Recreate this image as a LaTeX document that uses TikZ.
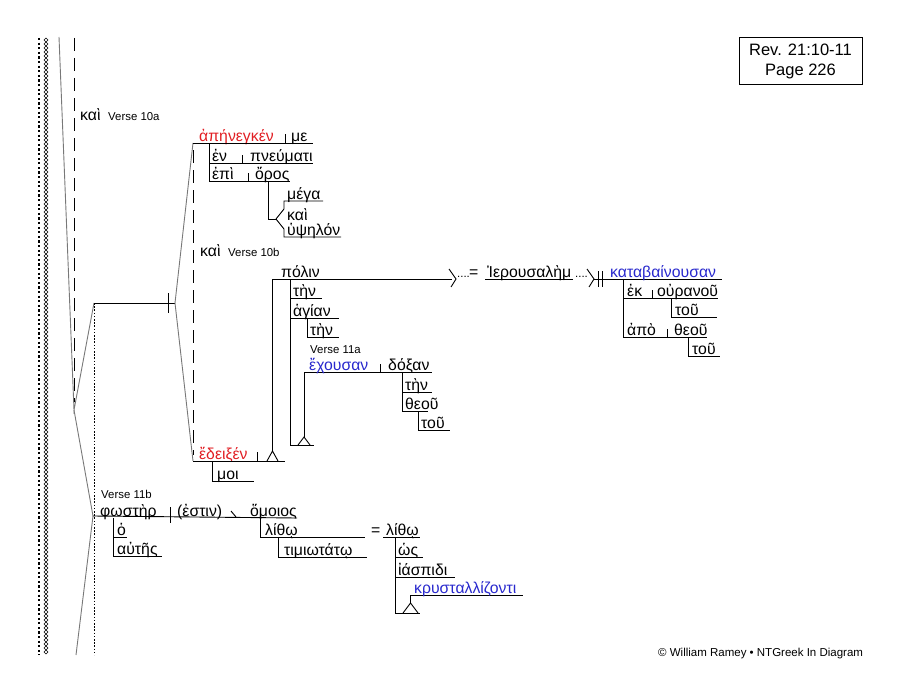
\documentclass[tikz,border=0pt]{standalone}
\usepackage{fontspec}
\setmainfont{Liberation Sans}
\definecolor{gkred}{RGB}{225,30,35}
\definecolor{gkblue}{RGB}{40,40,205}
\definecolor{lgray}{RGB}{120,120,120}
\begin{document}
\begin{tikzpicture}[x=1pt,y=-1pt,
  ln/.style={line width=0.9pt},
  gl/.style={line width=0.9pt, draw=lgray},
  gk/.style={font=\fontsize{15.8}{18}\selectfont, inner sep=0pt, anchor=base west},
  lab/.style={font=\fontsize{11.4}{13}\selectfont, inner sep=0pt, anchor=base west},
  tri/.style={line width=0.9pt}]
\useasboundingbox (0,0) rectangle (900,693);
% left border
\draw[line width=2.2pt, dash pattern=on 2.2pt off 2.4pt] (39,38)--(39,655);
\foreach \y in {38,42,...,650} {\draw[line width=0.5pt] (46,\y)--(48,\y+2)--(46,\y+4)--(44,\y+2)--cycle;}
% main gray connectors and dashed lines
\coordinate (top) at (59,37);
\coordinate (v1) at (74,410);
\coordinate (u1) at (94,303);
\coordinate (d1) at (93,516);
\coordinate (bot) at (76,655);
\draw[gl] (top)--(v1)--(u1);
\draw[gl] (v1)--(d1)--(bot);
\draw[ln, dash pattern=on 13pt off 7pt] (74,38)--(74,402);
\draw[line width=0.8pt, dash pattern=on 1.6pt off 1.6pt] (94,303)--(94,655);
\draw[ln] (u1)--(175,303);
\draw[ln] (168,293)--(168,313);
\coordinate (j2) at (175,303);
\draw[gl] (193,143)--(j2)--(193,461);
\draw[ln, dash pattern=on 13pt off 7pt] (193,150)--(193,455);
% kai verse 10a
\node[gk] (kai1) at (80,121) {καὶ};
\node[lab] (v10a) at (108,121) {Verse 10a};
% clause 1
\node[gk, text=gkred] (apen) at (199,141) {ἀπήνεγκέν};
\node[gk] (me) at (291,141) {με};
\draw[ln] (193,143)--(313,143);
\draw[ln] (285,134)--(285,143);
\draw[ln] (209,143)--(209,181);
\node[gk] (en) at (212,161) {ἐν};
\node[gk] (pneumati) at (250,161) {πνεύματι};
\draw[ln] (209,163)--(313,163);
\draw[ln] (242,155)--(242,163);
\node[gk] (epi) at (212,179) {ἐπὶ};
\node[gk] (oros) at (255,179) {ὄρος};
\draw[ln] (209,181)--(290,181);
\draw[ln] (248,173)--(248,181);
\draw[ln] (268,181)--(268,219)--(276,219);
\draw[ln] (276,219)--(284,209)--(284,201)--(323,201);
\draw[ln] (276,219)--(284,229)--(284,237)--(341,237);
\node[gk] (mega) at (287,199) {μέγα};
\node[gk] (kai2) at (287,220) {καὶ};
\node[gk] (hypselon) at (287,235) {ὑψηλόν};
% kai verse 10b
\node[gk] (kai3) at (200,256) {καὶ};
\node[lab] (v10b) at (228,256) {Verse 10b};
% clause 2
\node[gk, text=gkred] (edeixen) at (199,459) {ἔδειξέν};
\draw[ln] (193,461)--(285,461);
\draw[ln] (257,452)--(257,461);
\draw[tri] (267,461)--(272.5,451)--(278,461);
\draw[ln] (272.5,451)--(272.5,279);
\draw[ln] (212,461)--(212,481)--(254,481);
\node[gk] (moi) at (217,479) {μοι};
% polin
\node[gk] (polin) at (281,277) {πόλιν};
\draw[ln] (272.5,279)--(452,279);
\draw[ln] (449,269)--(456,279)--(451,287);
\node[lab] (dots1) at (457,277) {....};
\node[gk] (eq1) at (469,277) {=};
\node[gk] (ierous) at (487,277) {Ἰερουσαλὴμ};
\draw[ln] (485,279)--(573,279);
\node[lab] (dots2) at (575,277) {....};
\draw[ln] (587,269)--(594,279)--(589,287);
\draw[ln] (594,279)--(722,279);
\draw[ln] (598,271)--(598,287);
\draw[ln] (602,271)--(602,287);
\node[gk, text=gkblue] (katab) at (610,277) {καταβαίνουσαν};
\draw[ln] (623,279)--(623,337);
\node[gk] (ek) at (627,296) {ἐκ};
\node[gk] (ouranou) at (657,296) {οὐρανοῦ};
\draw[ln] (623,298)--(718,298);
\draw[ln] (652,290)--(652,298);
\draw[ln] (671,298)--(671,317)--(717,317);
\node[gk] (tou2) at (675,315) {τοῦ};
\node[gk] (apo) at (627,335) {ἀπὸ};
\node[gk] (theou2) at (674,335) {θεοῦ};
\draw[ln] (623,337)--(707,337);
\draw[ln] (667,329)--(667,337);
\draw[ln] (688,337)--(688,356)--(720,356);
\node[gk] (tou3) at (692,354) {τοῦ};
% modifiers of polin
\draw[ln] (290,279)--(290,445)--(314,445);
\draw[tri] (298,445)--(304,437)--(310,445);
\draw[ln] (304,437)--(304,372)--(432,372);
\draw[ln] (290,298)--(322,298);
\node[gk] (ten1) at (293,296) {τὴν};
\draw[ln] (290,318)--(339,318);
\node[gk] (hagian) at (293,316) {ἁγίαν};
\draw[ln] (307,318)--(307,337)--(339,337);
\node[gk] (ten2) at (310,335) {τὴν};
\node[lab] (v11a) at (310,353) {Verse 11a};
\node[gk, text=gkblue] (echousan) at (309,370) {ἔχουσαν};
\draw[ln] (380,364)--(380,372);
\node[gk] (doxan) at (388,370) {δόξαν};
\draw[ln] (402,372)--(402,411);
\draw[ln] (402,392)--(432,392);
\node[gk] (ten3) at (405,390) {τὴν};
\draw[ln] (402,411)--(428,411);
\node[gk] (theou1) at (405,409) {θεοῦ};
\draw[ln] (418,411)--(418,430)--(450,430);
\node[gk] (tou1) at (421,428) {τοῦ};
% clause 3
\node[lab] (v11b) at (101,498) {Verse 11b};
\draw[ln] (d1)--(297,518);
\node[gk] (phoster) at (100,516) {φωστὴρ};
\draw[ln] (170,507)--(170,523);
\node[gk] (estin) at (177,516) {(ἐστιν)};
\draw[ln] (231,511)--(236,517);
\node[gk] (homoios) at (250,516) {ὅμοιος};
\draw[ln] (113,518)--(113,556)--(162,556);
\draw[ln] (113,537)--(127,537);
\node[gk] (ho) at (117,535) {ὁ};
\node[gk] (autes) at (117,554) {αὐτῆς};
\draw[ln] (260,518)--(260,537)--(365,537);
\node[gk] (lithoi1) at (265,535) {λίθῳ};
\draw[ln] (278,537)--(278,557)--(367,557);
\node[gk] (timiotato) at (284,555) {τιμιωτάτῳ};
\node[gk] (eq2) at (371,535) {=};
\draw[ln] (383,537)--(420,537);
\node[gk] (lithoi2) at (386,535) {λίθῳ};
\draw[ln] (395,537)--(395,613)--(420,613);
\draw[ln] (395,557)--(423,557);
\node[gk] (hos) at (398,555) {ὡς};
\draw[ln] (395,577)--(455,577);
\node[gk] (iaspidi) at (398,575) {ἰάσπιδι};
\draw[tri] (403,613)--(410.5,603)--(418,613);
\draw[ln] (410.5,603)--(410.5,595)--(523,595);
\node[gk, text=gkblue] (kryst) at (414,593) {κρυσταλλίζοντι};
% title box and footer
\draw[line width=0.9pt] (739,37) rectangle (862,84);
\node[font=\fontsize{16.5}{19}\selectfont, inner sep=0pt, anchor=base] (ref) at (800.5,56) {Rev. 21:10-11};
\node[font=\fontsize{16.5}{19}\selectfont, inner sep=0pt, anchor=base] (page) at (800.5,76) {Page 226};
\node[font=\fontsize{11.5}{13}\selectfont, inner sep=0pt, anchor=base west] (foot) at (658,656) {© William Ramey • NTGreek In Diagram};
\end{tikzpicture}
\end{document}
